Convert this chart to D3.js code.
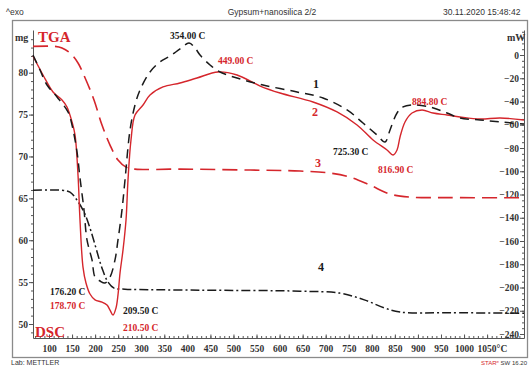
<!DOCTYPE html>
<html><head><meta charset="utf-8">
<script src="https://cdn.jsdelivr.net/npm/d3@7"></script>
<style>body{margin:0;background:#fff}svg{display:block}</style>
</head><body><svg id="c" width="529" height="367"></svg>
<script>
// ---- data ----
const xTickValues = [100,150,200,250,300,350,400,450,500,550,600,650,700,750,800,850,900,950,1000,1050];
const massTickValues = [50,55,60,65,70,75,80];
const heatTickValues = [0,-20,-40,-60,-80,-100,-120,-140,-160,-180,-200,-220,-240];

// curve 1: DSC (black dashed), temperature °C / heat flow mW
const dsc1Temp = [65.3,80.5,95.7,117.4,141.2,149.9,160.7,167.2,175.9,182.4,193.3,199.8,210.6,221.4,232.3,243.1,249.6,258.3,264.8,275.7,286.5,297.4,319.0,340.7,362.4,384.1,403.6,416.6,427.5,449.2,470.9,507.7,564.1,637.8,694.2,746.3,780.9,811.3,828.7,839.5,854.7,867.7,887.2,926.3,963.1,991.3,1034.7,1078.1,1130];
const dsc1Flow = [0,-12.9,-25.8,-36.1,-49.0,-60.2,-83.4,-105.8,-133.3,-159.1,-176.3,-191.0,-194.4,-196.1,-191.0,-176.3,-159.1,-133.3,-107.5,-64.5,-43.0,-30.1,-14.6,-6.0,-0.9,5.2,10.3,6.0,0,-8.6,-14.6,-19.8,-25.8,-31.8,-37.0,-47.3,-58.5,-68.8,-74.8,-64.5,-49.9,-44.7,-43.0,-44.7,-49.9,-54.2,-55.9,-57.6,-59.4];

// curve 2: DSC (red solid)
const dsc2Temp = [65.3,87.0,108.7,128.2,139.0,149.9,156.4,162.9,167.2,173.7,180.2,188.9,199.8,214.9,225.8,232.3,238.8,245.3,249.6,254.0,260.5,267.0,271.3,277.8,286.5,303.9,319.0,347.2,384.1,420.9,466.5,507.7,558.0,601.0,672.5,724.6,768.0,802.7,833.0,846.0,854.7,861.2,872.0,887.2,908.9,932.8,963.1,991.3,1034.7,1078.1,1130];
const dsc2Flow = [-0.9,-17.2,-31.8,-38.7,-44.7,-57.6,-68.8,-103.2,-141.9,-182.4,-196.1,-205.6,-210.7,-212.5,-215.1,-219.4,-223.7,-217.6,-206.4,-187.5,-167.7,-141.9,-107.5,-73.1,-51.6,-43.0,-34.4,-27.5,-24.1,-19.8,-14.6,-17.2,-26.7,-32.7,-40.4,-49.0,-60.2,-73.1,-81.7,-86.0,-81.7,-70.5,-57.6,-49.9,-47.3,-49.9,-51.6,-53.3,-55.1,-54.2,-55.9];

// curve 3: TGA (red dashed), mass mg
const tga3Temp = [65.3,113.0,128.2,145.5,162.9,180.2,197.6,214.9,232.3,249.6,267.0,286.5,384.1,535.9,644.3,709.4,752.8,796.1,839.5,882.9,969.6,1130];
const tga3Mass = [83.14,83.14,82.95,82.35,81.16,79.13,76.74,73.75,71.36,69.57,68.73,68.49,68.49,68.38,68.26,68.02,67.54,66.58,65.51,65.15,65.09,65.07];

// curve 4: TGA (black dash-dot)
const tga4Temp = [65.3,128.2,145.5,160.7,175.9,188.9,201.9,214.9,228.0,241.0,264.8,427.5,644.3,731.1,785.3,828.7,861.2,969.6,1130];
const tga4Mass = [65.96,65.96,65.75,64.79,63.36,61.45,59.06,56.67,55.00,54.28,54.16,54.04,53.92,53.68,52.85,51.89,51.42,51.35,51.29];

// annotations (temperature, heat flow)
const noteText = ["354.00 C","449.00 C","725.30 C","816.90 C","884.80 C","176.20 C","178.70 C","209.50 C","210.50 C"];
const noteTemp = [362.4,466.5,715.9,813.5,887.2,102.2,102.2,260.5,260.5];
const noteFlow = [13.8,-7.7,-86.0,-101.5,-43.0,-206.5,-218.5,-222.8,-237.4];
const noteRed  = [false,true,false,true,true,false,true,false,true];
const curveNum = ["1","2","3","4"];
const curveNumTemp = [672.5,670.4,676.9,683.4];
const curveNumFlow = [-28.4,-52.5,-96.3,-186.0];

// ---- drawing ----
const RED = "#d5262c", BLK = "#1a1a1a";
const svg = d3.select("#c");
const serif = "'Liberation Serif','Times New Roman',serif";
const sans = "'Liberation Sans',Arial,sans-serif";

const x = d3.scaleLinear().domain([65.3, 1130]).range([33, 524]);
const yL = d3.scaleLinear().domain([80, 50]).range([72.7, 324]);
const yR = d3.scaleLinear().domain([0, -240]).range([55, 334]);
const axisY = 338, axisTop = 30;

// frame
svg.append("rect").attr("x",12.5).attr("y",20.5).attr("width",515).attr("height",337)
  .attr("fill","none").attr("stroke","#8a8a8a").attr("stroke-width",1.3);

// header/footer
svg.append("text").attr("x",6).attr("y",15).attr("font-family",sans).attr("font-size",8.5).attr("fill","#333").text("^exo");
svg.append("text").attr("x",272).attr("y",15).attr("text-anchor","middle").attr("font-family",sans).attr("font-size",8.5).attr("fill","#333").text("Gypsum+nanosilica 2/2");
svg.append("text").attr("x",443).attr("y",15).attr("font-family",sans).attr("font-size",8.5).attr("fill","#333").text("30.11.2020 15:48:42");
svg.append("text").attr("x",11).attr("y",365).attr("font-family",sans).attr("font-size",7).attr("fill","#333").text("Lab: METTLER");
const st = svg.append("text").attr("x",481).attr("y",365).attr("font-family",sans).attr("font-size",6).attr("fill","#333");
st.append("tspan").attr("fill",RED).text("STAR");
st.append("tspan").attr("fill",RED).attr("font-size",4.3).attr("dy",-2.5).text("e");
st.append("tspan").attr("dy",2.5).text(" SW 16.20");

function styleAxis(g){
  g.select(".domain").attr("stroke","#555").attr("stroke-width",1);
  g.selectAll(".tick line").attr("stroke","#555");
  g.selectAll("text").attr("font-family",serif).attr("font-weight","bold").attr("font-size",9.5).attr("fill","#333");
}
const fmt = d3.format("d");

// left axis (mg)
const yLfull = yL.copy().domain([yL.invert(axisTop), yL.invert(axisY)]).range([axisTop, axisY]);
const gL = svg.append("g").attr("transform","translate(33,0)");
gL.call(d3.axisLeft(yLfull).tickValues(d3.range(49,85)).tickSize(2).tickSizeOuter(0).tickFormat(""));
gL.append("g").call(d3.axisLeft(yL).tickValues(massTickValues).tickSize(4).tickSizeOuter(0).tickPadding(1).tickFormat(fmt)).call(g=>g.select(".domain").remove());
styleAxis(gL);

// right axis (mW)
const yRfull = yR.copy().domain([yR.invert(axisTop), yR.invert(axisY)]).range([axisTop, axisY]);
const gR = svg.append("g").attr("transform","translate(524,0)");
gR.call(d3.axisLeft(yRfull).tickValues(d3.range(-240,25,5)).tickSize(2).tickSizeOuter(0).tickFormat(""));
gR.append("g").call(d3.axisLeft(yR).tickValues(heatTickValues).tickSize(4).tickSizeOuter(0).tickPadding(1).tickFormat(fmt)).call(g=>g.select(".domain").remove());
styleAxis(gR);

// bottom axis (last label carries the unit)
const lastT = xTickValues[xTickValues.length-1];
const gB = svg.append("g").attr("transform",`translate(0,${axisY})`);
gB.call(d3.axisBottom(x).tickValues(d3.range(70,1130,10)).tickSize(-2).tickSizeOuter(0).tickFormat(""));
gB.append("g").call(d3.axisBottom(x).tickValues(xTickValues).tickSize(-3.5).tickSizeOuter(0).tickPadding(7)
  .tickFormat(d => d===lastT ? fmt(d)+"°C" : fmt(d))).call(g=>g.select(".domain").remove());
styleAxis(gB);
gB.selectAll(".tick text").filter(d=>d===lastT).attr("text-anchor","start").attr("x",-10);

// units & titles
svg.append("text").attr("x",15).attr("y",41).attr("font-family",serif).attr("font-weight","bold").attr("font-size",10).attr("fill","#333").text("mg");
svg.append("text").attr("x",507).attr("y",41).attr("font-family",serif).attr("font-weight","bold").attr("font-size",10).attr("fill","#333").text("mW");
svg.append("text").attr("x",38).attr("y",42).attr("font-family",serif).attr("font-weight","bold").attr("font-size",15).attr("fill",RED).text("TGA");
svg.append("text").attr("x",35).attr("y",337).attr("font-family",serif).attr("font-weight","bold").attr("font-size",15).attr("fill",RED).text("DSC");

// curves
const lineR = d3.line().x(d=>x(d[0])).y(d=>yR(d[1])).curve(d3.curveCatmullRom.alpha(0.5));
const lineL = d3.line().x(d=>x(d[0])).y(d=>yL(d[1])).curve(d3.curveCatmullRom.alpha(0.5));
svg.append("path").datum(d3.zip(tga3Temp,tga3Mass)).attr("d",lineL).attr("fill","none")
  .attr("stroke",RED).attr("stroke-width",1.6).attr("stroke-dasharray","15,7");
svg.append("path").datum(d3.zip(tga4Temp,tga4Mass)).attr("d",lineL).attr("fill","none")
  .attr("stroke",BLK).attr("stroke-width",1.5).attr("stroke-dasharray","9,3,2,3");
svg.append("path").datum(d3.zip(dsc2Temp,dsc2Flow)).attr("d",lineR).attr("fill","none")
  .attr("stroke",RED).attr("stroke-width",1.4);
svg.append("path").datum(d3.zip(dsc1Temp,dsc1Flow)).attr("d",lineR).attr("fill","none")
  .attr("stroke",BLK).attr("stroke-width",1.5).attr("stroke-dasharray","9,6");

// annotations
noteText.forEach((t,i)=>{
  svg.append("text").attr("x",x(noteTemp[i])).attr("y",yR(noteFlow[i]))
    .attr("font-family",serif).attr("font-weight","bold").attr("font-size",9.5)
    .attr("fill",noteRed[i]?RED:BLK).text(t);
});
curveNum.forEach((t,i)=>{
  svg.append("text").attr("x",x(curveNumTemp[i])).attr("y",yR(curveNumFlow[i]))
    .attr("font-family",serif).attr("font-weight","bold").attr("font-size",12)
    .attr("fill",(i===1||i===2)?RED:BLK).text(t);
});
</script></body></html>
